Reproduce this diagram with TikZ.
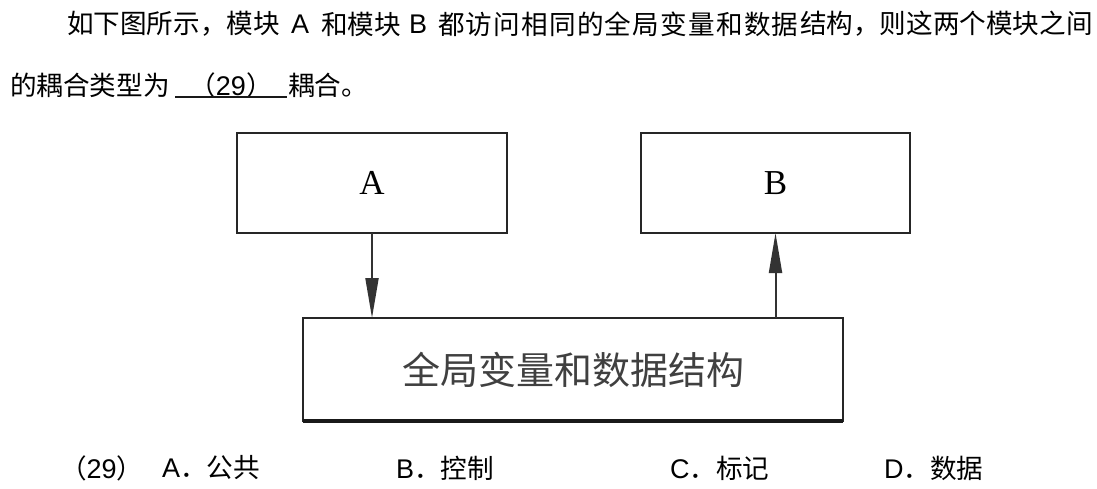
\documentclass[tikz,border=0pt]{standalone}
\usepackage{fontspec}
\setmainfont{Liberation Sans}
\newfontfamily\cjk{Noto Sans CJK SC}
\newfontfamily\boxserif{Liberation Serif}
\usetikzlibrary{arrows.meta}
\tikzset{
  txt/.style={inner sep=0pt, outer sep=0pt, font=\fontsize{26.6}{27}\selectfont, anchor=west},
  lat/.style={inner sep=0pt, outer sep=0pt, font=\fontsize{27}{27}\selectfont, anchor=west},
  modbox/.style={draw=black!85, line width=2.4pt, fill=white, inner sep=0pt, outer sep=0pt,
                 minimum height=100pt, font=\boxserif\fontsize{35}{35}\selectfont},
  flow/.style={draw=black!80, line width=2pt, -{Triangle[length=40pt,width=13pt]}},
}
\begin{document}
\begin{tikzpicture}[x=1pt,y=-1pt]
\useasboundingbox[fill=white] (0,0) rectangle (1097,489);
% question text, line 1
\node[txt] (q1a) at (67,24) {\cjk 如下图所示，模块};
\node[lat] (q1b) at (291,24) {A};
\node[txt] (q1c) at (321,24) {\cjk 和模块};
\node[lat] (q1d) at (409,24) {B};
\node[txt] (q1e) at (438,24) {\cjk\addfontfeature{LetterSpace=4.6}都访问相同的全局变量和数据};
\node[txt] (q1f) at (800,24) {\cjk 结构，则这两个模块之间};
% line 2
\node[txt] (q2a) at (10,85) {\cjk 的耦合类型为};
\node[txt, anchor=center, minimum width=112pt] (blank) at (231,85) {{\cjk （}\fontsize{27}{27}\selectfont 29{\cjk\fontsize{26.6}{27}\selectfont ）}};
\draw[line width=1.8pt, black!90] (175,97) -- (287,97);
\node[txt] (q2b) at (288,85) {\cjk 耦合。};
% diagram
\node[modbox, minimum width=270pt] (A) at (372,183) {A};
\node[modbox, minimum width=269pt] (B) at (775.5,183) {B};
\node[modbox, minimum width=540pt, minimum height=103pt, font=\cjk\fontsize{38}{38}\selectfont, text=black!75] (G) at (573,369.5) {全局变量和数据结构};
\draw[line width=3.6pt, black!90] (G.south west) -- (G.south east);
\draw[flow] (A.south) -- (A.south |- G.north);
\draw[flow] (G.north -| B.south) -- (B.south);
% options
\node[txt] (o0) at (60,468) {{\cjk （}\fontsize{27}{27}\selectfont 29{\cjk\fontsize{26.6}{27}\selectfont ）}};
\node[txt] (oA) at (162,468) {{\fontsize{27}{27}\selectfont A}{\cjk ．公共}};
\node[txt] (oB) at (396,468) {{\fontsize{27}{27}\selectfont B}{\cjk ．控制}};
\node[txt] (oC) at (670,468) {{\fontsize{27}{27}\selectfont C}{\cjk ．标记}};
\node[txt] (oD) at (884,468) {{\fontsize{27}{27}\selectfont D}{\cjk ．数据}};
\end{tikzpicture}
\end{document}
